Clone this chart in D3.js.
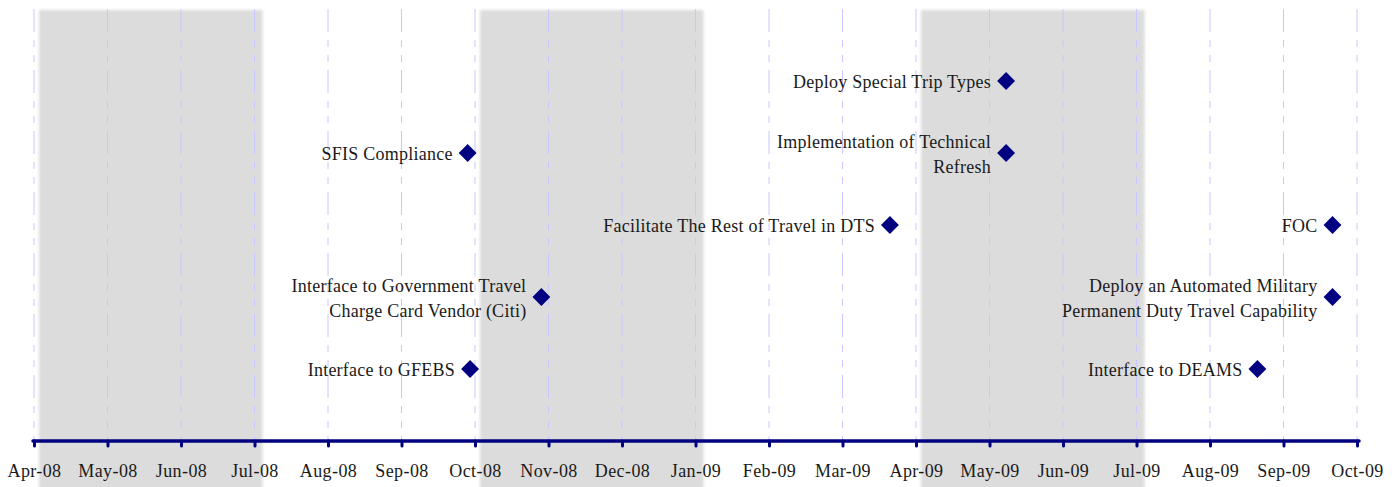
<!DOCTYPE html>
<html>
<head>
<meta charset="utf-8">
<script src="https://cdn.jsdelivr.net/npm/d3@7"></script>
<style>
  html, body { margin: 0; padding: 0; background: #fff; }
  svg { display: block; }
  text { font-family: "Liberation Serif", "Times New Roman", serif; fill: #1a1a1a; }
</style>
</head>
<body>
<svg id="chart"></svg>
<script>
// month ticks on the axis
var months = ["Apr-08", "May-08", "Jun-08", "Jul-08", "Aug-08", "Sep-08", "Oct-08", "Nov-08",
    "Dec-08", "Jan-09", "Feb-09", "Mar-09", "Apr-09", "May-09", "Jun-09", "Jul-09",
    "Aug-09", "Sep-09", "Oct-09"];

// shaded quarters, [start month, end month]
var shaded = [["2008-04-01", "2008-07-01"], ["2008-10-01", "2009-01-01"], ["2009-04-01", "2009-07-01"]];

// milestones
var names = [
    ["Deploy Special Trip Types"],
    ["Implementation of Technical", "Refresh"],
    ["SFIS Compliance"],
    ["Facilitate The Rest of Travel in DTS"],
    ["FOC"],
    ["Interface to Government Travel", "Charge Card Vendor (Citi)"],
    ["Deploy an Automated Military", "Permanent Duty Travel Capability"],
    ["Interface to GFEBS"],
    ["Interface to DEAMS"]
];
var dates = ["2009-05-08", "2009-05-08", "2008-09-28", "2009-03-21", "2009-09-21",
    "2008-10-29", "2009-09-21", "2008-09-29", "2009-08-21"];
var levels = [5, 4, 4, 3, 3, 2, 2, 1, 1];

var width = 1398, height = 487,
    margin = {left: 34, right: 41, top: 9, axis: 441};

var parse = d3.timeParse("%Y-%m-%d");
var start = parse("2008-04-01");

// excel-style month axis: every month gets the same width
function monthIndex(dateString) {
    var d = parse(dateString),
        whole = d3.timeMonth.count(start, d3.timeMonth.floor(d)),
        days = d3.timeDay.count(d3.timeMonth.floor(d), d3.timeMonth.ceil(d3.timeDay.offset(d, 1)));
    return whole + (d.getDate() - 1) / days;
}

var x = d3.scaleLinear().domain([0, months.length - 1]).range([margin.left, width - margin.right]);
var y = d3.scaleLinear().domain([0, 6]).range([margin.axis, margin.top]);

var svg = d3.select("#chart").attr("width", width).attr("height", height);

var defs = svg.append("defs");
defs.append("filter").attr("id", "soft")
    .attr("x", "-5%").attr("y", "-5%").attr("width", "110%").attr("height", "110%")
    .append("feGaussianBlur").attr("stdDeviation", 1.4);

// shaded quarters
svg.append("g").selectAll("rect")
    .data(shaded)
    .join("rect")
    .attr("x", function (d) { return x(monthIndex(d[0])) + 5; })
    .attr("y", y(6) + 1)
    .attr("width", function (d) { return x(monthIndex(d[1])) - x(monthIndex(d[0])) + 3; })
    .attr("height", height)
    .attr("fill", "#dcdcdc")
    .attr("filter", "url(#soft)");

// gridlines
svg.append("g").selectAll("line")
    .data(months)
    .join("line")
    .attr("x1", function (d, i) { return x(i); })
    .attr("x2", function (d, i) { return x(i); })
    .attr("y1", y(6))
    .attr("y2", y(0))
    .attr("stroke", "#c8c8ff")
    .attr("stroke-width", 1)
    .attr("stroke-dasharray", "23,8,7,8,7,8");

// axis
var axis = d3.axisBottom(x)
    .tickValues(d3.range(months.length))
    .tickFormat(function (i) { return months[i]; })
    .tickSize(5)
    .tickPadding(18);

var gAxis = svg.append("g")
    .attr("transform", "translate(0," + y(0) + ")")
    .call(axis);
gAxis.select(".domain").remove();
gAxis.insert("line", ":first-child")
    .attr("x1", x(0) - 1).attr("x2", x(months.length - 1) + 2)
    .attr("stroke", "#000080").attr("stroke-width", 3.5).attr("stroke-linecap", "round");
gAxis.selectAll(".tick line")
    .attr("stroke", "#000080").attr("stroke-width", 3).attr("stroke-linecap", "round");
gAxis.selectAll(".tick text")
    .attr("font-size", 18)
    .attr("letter-spacing", 0.4)
    .attr("font-family", "Liberation Serif, serif")
    .attr("fill", "#1a1a1a");

// milestones
var milestones = names.map(function (n, i) {
    return {lines: n, date: dates[i], level: levels[i]};
});

var marks = svg.append("g").selectAll("g")
    .data(milestones)
    .join("g")
    .attr("transform", function (d) {
        return "translate(" + x(monthIndex(d.date)) + "," + y(d.level) + ")";
    });

marks.append("path")
    .attr("d", d3.symbol().type(d3.symbolSquare).size(160))
    .attr("transform", "rotate(45)")
    .attr("fill", "#000080");

marks.append("text")
    .attr("text-anchor", "end")
    .attr("font-size", 18)
    .attr("letter-spacing", 0.25)
    .selectAll("tspan")
    .data(function (d) {
        return d.lines.map(function (t, j) { return {t: t, j: j, n: d.lines.length}; });
    })
    .join("tspan")
    .attr("x", -15)
    .attr("y", function (d) { return (d.j - (d.n - 1) / 2) * 25 + 7; })
    .text(function (d) { return d.t; });
</script>
</body>
</html>
